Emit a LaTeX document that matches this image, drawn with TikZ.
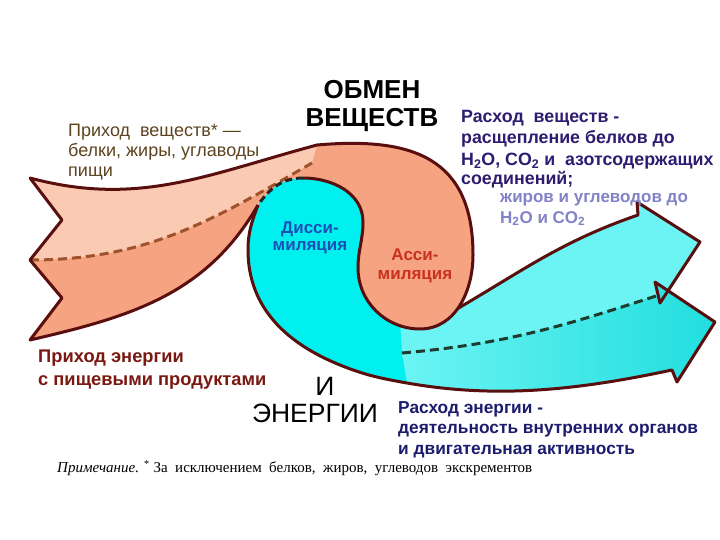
\documentclass[tikz,border=0pt]{standalone}
\usepackage{fontspec}
\setmainfont{Liberation Sans}
\newfontfamily\notefont{Liberation Serif}
\usetikzlibrary{backgrounds}
\pgfdeclarelayer{edgelayer}
\pgfdeclarelayer{nodelayer}
\pgfsetlayers{edgelayer,nodelayer,main}
\definecolor{rimred}{HTML}{5A0F0F}
\definecolor{peach}{HTML}{FBCAB2}
\definecolor{salmon}{HTML}{F5A381}
\definecolor{seambrown}{HTML}{A0522D}
\definecolor{aqua}{HTML}{00F0F0}
\definecolor{aqualight}{HTML}{6CF4F4}
\definecolor{aquamid}{HTML}{22DEDE}
\definecolor{seamgreen}{HTML}{1E3C2E}
\definecolor{intakebrown}{HTML}{5E4320}
\definecolor{energyred}{HTML}{7A1812}
\definecolor{spendviolet}{HTML}{2E1C70}
\definecolor{spendlilac}{HTML}{8282C8}
\definecolor{spendnavy}{HTML}{1C1C6E}
\definecolor{dissblue}{HTML}{1E50B4}
\definecolor{assred}{HTML}{C8321E}
\tikzset{font=\fontsize{17}{21}\selectfont}
\tikzstyle{none}=[inner sep=0pt]
\tikzstyle{rim}=[draw=rimred, line width=3pt, line join=round]
\tikzstyle{brownseam}=[draw=seambrown, line width=3pt, dash pattern=on 9pt off 5pt]
\tikzstyle{darkseam}=[draw=seamgreen, line width=3pt, dash pattern=on 9pt off 5pt]
\tikzstyle{blackseam}=[draw=black!85, line width=3pt, dash pattern=on 7pt off 4pt]
\tikzstyle{caption}=[inner sep=0pt, align=left, anchor=north west, font=\fontsize{17}{21}\selectfont\bfseries]
\tikzstyle{word}=[inner sep=0pt, align=center, font=\fontsize{17}{17.5}\selectfont\bfseries]
\tikzstyle{heading}=[inner sep=0pt, align=center, font=\fontsize{26.5}{28}\selectfont]

\begin{document}
\begin{tikzpicture}[x=1pt, y=1pt]
	\begin{pgfonlayer}{nodelayer}
		\node [style=none] (0) at (30, -178) {};
		\node [style=none] (1) at (62, -220) {};
		\node [style=none] (2) at (30, -260) {};
		\node [style=none] (3) at (62, -298) {};
		\node [style=none] (4) at (30, -340) {};
		\node [style=none] (5) at (317, -145) {};
		\node [style=none] (6) at (473, -255) {};
		\node [style=none] (7) at (420, -329) {};
		\node [style=none] (8) at (358, -268) {};
		\node [style=none] (9) at (363, -222) {};
		\node [style=none] (10) at (303, -178) {};
		\node [style=none] (11) at (258, -205) {};
		\node [style=none] (12) at (312, -163) {};
		\node [style=none] (13) at (248, -250) {};
		\node [style=none] (14) at (340, -365) {};
		\node [style=none] (15) at (672, -370) {};
		\node [style=none] (16) at (677, -382) {};
		\node [style=none] (17) at (715, -322) {};
		\node [style=none] (18) at (655, -282) {};
		\node [style=none] (19) at (660, -303) {};
		\node [style=none] (20) at (700, -242) {};
		\node [style=none] (21) at (637, -202) {};
		\node [style=none] (22) at (638, -215) {};
		\node [style=none] (23) at (450, -313) {};
		\node [style=none] (24) at (402, -353) {};
		\node [style=none] (25) at (400, -320) {};
		\node [style=none] (26) at (430, -300) {};
		\node [style=none] (27) at (656, -296) {};
		\node [style=none] (28) at (407, -383) {};
		\node [style=heading, font=\fontsize{26}{28.5}\selectfont\bfseries] (30) at (372, -106) {ОБМЕН\\ВЕЩЕСТВ};
		\node [style=heading] (31) at (325, -386) {И};
		\node [style=heading] (32) at (315, -413) {ЭНЕРГИИ};
		\node [style=caption, text=intakebrown, font=\fontsize{18}{20}\selectfont] (33) at (68, -124) {Приход\ \ веществ* —\\белки, жиры, углаводы\\пищи};
		\node [style=caption, text=energyred, font=\fontsize{18.3}{22.5}\selectfont\bfseries] (34) at (38, -350) {Приход энергии\\с пищевыми продуктами};
		\node [style=caption, text=spendviolet, font=\fontsize{17.8}{21.5}\selectfont\bfseries] (35) at (461, -110) {Расход\ \ веществ -\\расщепление белков до\\H\textsubscript{2}O, CO\textsubscript{2} и\ \ азотсодержащих};
		\node [style=caption, text=spendviolet, font=\fontsize{17.8}{21.5}\selectfont\bfseries] (36) at (461, -171.5) {соединений;};
		\node [style=caption, text=spendlilac] (37) at (500, -193) {жиров и углеводов до\\H\textsubscript{2}O и CO\textsubscript{2}};
		\node [style=caption, text=spendnavy, font=\fontsize{17.3}{20.5}\selectfont\bfseries] (38) at (398, -401) {Расход энергии -\\деятельность внутренних органов\\и двигательная активность};
		\node [style=word, text=dissblue] (39) at (310, -238) {Дисси-\\миляция};
		\node [style=word, text=assred, font=\fontsize{17}{19.5}\selectfont\bfseries] (40) at (415, -266) {Асси-\\миляция};
		\node [style=caption, font=\notefont\fontsize{15}{17}\selectfont] (41) at (57, -460) {\textit{Примечание.} \textsuperscript{*} За\ \ исключением\ \ белков,\ \ жиров,\ \ углеводов\ \ экскрементов};
	\end{pgfonlayer}
	\begin{pgfonlayer}{edgelayer}
		\path [use as bounding box, fill=white] (0, 0) rectangle (720, -540);
		% cyan part: dissimilation and the two outgoing arrows
		\fill [aqua] (11.center) to [out=250, in=90] (13.center) to [out=-90, in=158] (14.center) to [out=-22, in=170] (28.center) to [out=-10, in=192, looseness=0.90] (15.center) -- (16.center) -- (17.center) -- (18.center) -- (19.center) -- (20.center) -- (21.center) -- (22.center) to [out=199, in=30] (23.center) -- (26.center) -- (7.center) to [out=180, in=-90] (8.center) to [out=90, in=-90] (9.center) to [out=90, in=0] (10.center) to [out=180, in=55] (11.center);
		\fill [aqualight] (24.center) to [out=5, in=198] (27.center) -- (19.center) -- (20.center) -- (21.center) -- (22.center) to [out=199, in=30] (23.center) -- (26.center) -- (25.center) -- cycle;
		\shade [left color=aqualight, right color=aquamid] (24.center) to [out=5, in=198] (27.center) -- (19.center) -- (18.center) -- (17.center) -- (16.center) -- (15.center) to [out=192, in=-10, looseness=0.90] (28.center) -- cycle;
		\draw [style=darkseam] (24.center) to [out=5, in=198] (27.center);
		\draw [style=rim] (11.center) to [out=250, in=90] (13.center) to [out=-90, in=158] (14.center) to [out=-22, in=170] (28.center) to [out=-10, in=192, looseness=0.90] (15.center) -- (16.center) -- (17.center) -- (18.center) -- (19.center) -- (20.center) -- (21.center) -- (22.center) to [out=199, in=30] (23.center);
		% orange part: incoming arrow and assimilation
		\fill [salmon] (11.center) to [out=240, in=13] (4.center) -- (3.center) -- (2.center) -- (1.center) -- (0.center) to [out=-15, in=195] (5.center) to [out=5, in=90, looseness=1.30] (6.center) to [out=-90, in=0] (7.center) to [out=180, in=-90] (8.center) to [out=90, in=-90] (9.center) to [out=90, in=0] (10.center) to [out=180, in=55] (11.center);
		\fill [peach] (0.center) to [out=-15, in=195] (5.center) -- (12.center) to [out=210, in=0] (2.center) -- (1.center) -- cycle;
		\draw [style=brownseam] (2.center) to [out=0, in=210] (12.center);
		\draw [style=rim] (11.center) to [out=240, in=13] (4.center) -- (3.center) -- (2.center) -- (1.center) -- (0.center) to [out=-15, in=195] (5.center) to [out=5, in=90, looseness=1.30] (6.center) to [out=-90, in=0] (7.center) to [out=180, in=-90] (8.center) to [out=90, in=-90] (9.center) to [out=90, in=0] (10.center);
		\draw [style=blackseam] (10.center) to [out=180, in=55] (11.center);
	\end{pgfonlayer}
\end{tikzpicture}
\end{document}
